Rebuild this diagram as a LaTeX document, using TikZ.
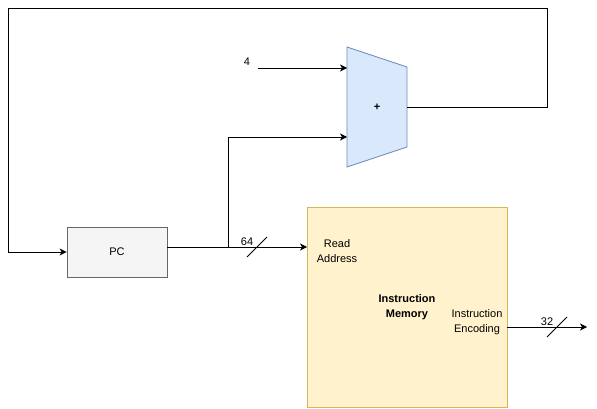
\documentclass[tikz,border=0pt]{standalone}
\usepackage{fontspec}
\setmainfont{Liberation Sans}
\usetikzlibrary{arrows.meta,positioning}
\definecolor{addfill}{HTML}{DAE8FC}
\definecolor{addline}{HTML}{6C8EBF}
\definecolor{pcfill}{HTML}{F5F5F5}
\definecolor{pcline}{HTML}{666666}
\definecolor{memfill}{HTML}{FFF2CC}
\definecolor{memline}{HTML}{D6B656}
\tikzset{
  wire/.style={line width=0.8pt},
  sig/.style={wire,-{Stealth[length=7pt,width=7pt,inset=2pt]}},
  lbl/.style={font=\fontsize{11}{14.5}\selectfont,align=center,inner sep=0pt},
}
\begin{document}
\begin{tikzpicture}[x=1pt,y=-1pt]
  \pgfmathsetmacro\sl{10}   % half size of bus slash
  \useasboundingbox (0,0) rectangle (597,409);

% adder
  \filldraw[fill=addfill,draw=addline,line width=0.8pt] (347,47) -- (407,67) -- (407,147) -- (347,167) -- cycle;
  \node[lbl] (add) at (377,107) {\textbf{+}};
  \coordinate (addina) at (347,68);
  \coordinate (addinb) at (347,137);
  \coordinate (addout) at (407,107);

% PC and instruction memory
  \node[lbl,draw=pcline,fill=pcfill,line width=0.8pt,minimum width=100pt,minimum height=50pt] (pc) at (117,252) {PC};
  \node[draw=memline,fill=memfill,line width=0.8pt,minimum width=200pt,minimum height=200pt] (mem) at (407,307) {};
  \node[lbl,font=\fontsize{11}{14.5}\selectfont\bfseries] (memname) at (407,307) {Instruction\\Memory};
  \node[lbl] (rdaddr) at (337,251) {Read\\Address};
  \node[lbl] (enc) at (477,322) {Instruction\\Encoding};

% constant 4
  \node[lbl] (four) at (247,62) {4};
  \coordinate (src4) at (258,68);
  \draw[sig] (src4) -- (addina);

% PC -> read address, tap up to adder
  \coordinate (pcout) at (167,247);
  \coordinate (rdin) at (307,247);
  \coordinate (tap) at (228,247);
  \draw[sig] (pcout) -- (rdin);
  \draw[sig] (tap) |- (addinb);
  \draw[wire] (257-\sl,247+\sl) -- (257+\sl,247-\sl);
  \node[lbl] (w64) at (247,242) {64};

% adder -> PC feedback
  \coordinate (fbr) at (547,8);
  \coordinate (fbl) at (8,8);
  \draw[sig] (addout) -| (fbr) -- (fbl) |- (pc.west);

% instruction out
  \coordinate (memout) at (507,327);
  \coordinate (insend) at (587,327);
  \draw[sig] (memout) -- (insend);
  \draw[wire] (557-\sl,327+\sl) -- (557+\sl,327-\sl);
  \node[lbl] (w32) at (547,322) {32};

\end{tikzpicture}
\end{document}
